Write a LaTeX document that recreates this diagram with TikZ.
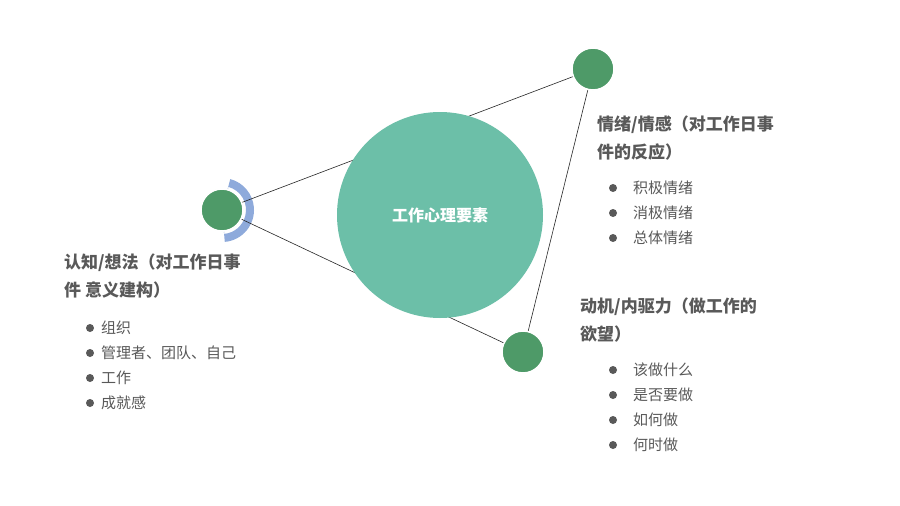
\documentclass[tikz,border=0pt]{standalone}
\usepackage{fontspec}
\setmainfont{Noto Sans CJK SC}
\newfontfamily\cjkb{Noto Sans CJK SC}[BoldFont={Noto Sans CJK SC Bold}]
\definecolor{txt}{HTML}{595959}
\definecolor{dotg}{HTML}{4E9A68}
\definecolor{bigc}{HTML}{6CBFA8}
\definecolor{ringL}{HTML}{8EAADB}
\definecolor{ringT}{HTML}{8C8FC9}
\definecolor{ringB}{HTML}{7BC0C8}
\tikzset{
  dotnode/.style={circle,fill=dotg,draw=white,line width=1.5pt,minimum size=42pt,inner sep=0},
  head/.style={anchor=west,text=txt,font=\fontsize{17}{28}\selectfont\bfseries,align=left,inner sep=0},
  item/.style={anchor=west,text=txt,font=\fontsize{15}{18}\selectfont,inner sep=0},
  bul/.style={circle,fill=txt,minimum size=8pt,inner sep=0},
  link/.style={draw=black!85,line width=0.6pt}
}
\begin{document}
\begin{tikzpicture}[x=1pt,y=-1pt]
\useasboundingbox (0,0) rectangle (900,506);
\fill[white] (0,0) rectangle (900,506);
% rings
\fill[ringL] (222,210) ++(85:32) arc[start angle=85,end angle=-75,radius=32,y radius=32] -- ++(0,0) -- (222,210) ++(-75:24) arc[start angle=-75,end angle=85,radius=24] -- cycle;
\begin{scope}[y=1pt]
\end{scope}
\coordinate (cl) at (222,210);
\coordinate (ct) at (593,69);
\coordinate (cb) at (523,352);
\node[dotnode] (L) at (cl) {};
\node[dotnode] (T) at (ct) {};
\node[dotnode] (B) at (cb) {};
\draw[link] (L.center) -- (T.center) -- (B.center) -- cycle;
\node[circle,fill=bigc,minimum size=206pt,inner sep=0,text=white,font=\fontsize{16}{18}\selectfont\bfseries] (C) at (440,215) {工作心理要素};
\node[dotnode] at (cl) {};
\node[dotnode] at (ct) {};
\node[dotnode] at (cb) {};
\node[head] (h1) at (597,138) {情绪/情感（对工作日事\\件的反应）};
\node[head] (h2) at (64,276) {认知/想法（对工作日事\\件 意义建构）};
\node[head] (h3) at (580,320) {动机/内驱力（做工作的\\欲望）};
\foreach \y/\t in {188/积极情绪,213/消极情绪,238/总体情绪}{
  \node[bul] at (613,\y) {}; \node[item] at (633,\y) {\t};}
\foreach \y/\t in {328/组织,353/管理者、团队、自己,378/工作,403/成就感}{
  \node[bul] at (90,\y) {}; \node[item] at (101,\y) {\t};}
\foreach \y/\t in {370/该做什么,395/是否要做,420/如何做,445/何时做}{
  \node[bul] at (613,\y) {}; \node[item] at (633,\y) {\t};}
\end{tikzpicture}
\end{document}
